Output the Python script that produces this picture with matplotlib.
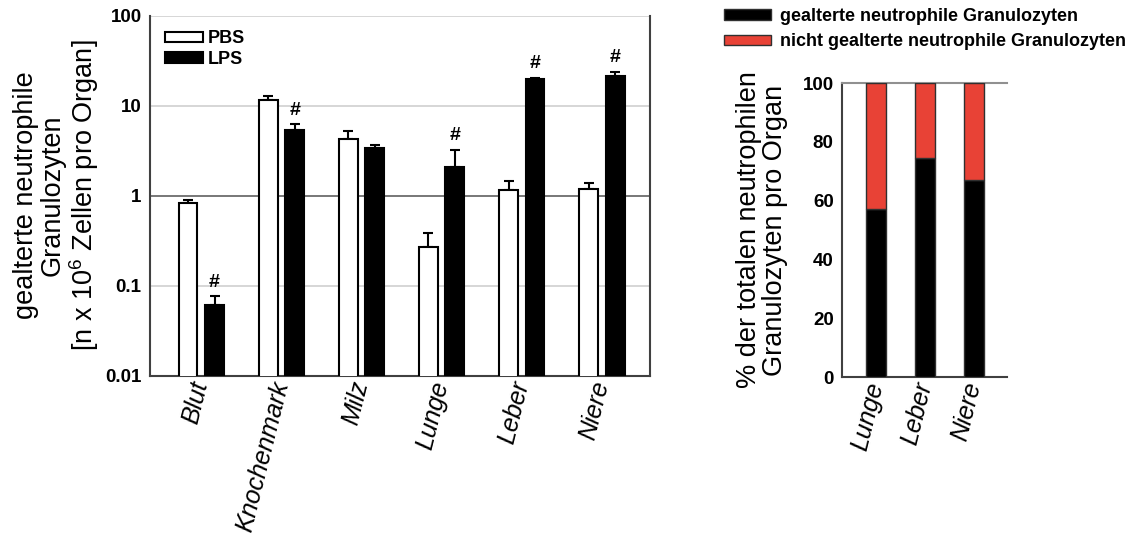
import numpy as np
import matplotlib
matplotlib.use("Agg")
import matplotlib.pyplot as plt
import matplotlib.transforms as mtransforms
from matplotlib.patches import Patch

plt.rcParams['font.family'] = ['Liberation Sans', 'DejaVu Sans']
plt.rcParams['mathtext.fontset'] = 'custom'
plt.rcParams['mathtext.rm'] = 'Liberation Sans'

# left chart data (log scale)
organs = ['Blut', 'Knochenmark', 'Milz', 'Lunge', 'Leber', 'Niere']
pbs_mean = [0.83, 11.6, 4.3, 0.27, 1.17, 1.2]
pbs_top = [0.91, 13.0, 5.3, 0.385, 1.48, 1.38]
lps_mean = [0.062, 5.4, 3.4, 2.08, 19.9, 21.7]
lps_top = [0.077, 6.3, 3.7, 3.24, 20.6, 24.0]
lps_sig = [True, True, False, True, True, True]

# right chart data (percent)
organs2 = ['Lunge', 'Leber', 'Niere']
aged_pct = [57.1, 74.6, 67.0]
not_aged_pct = [42.9, 25.4, 33.0]

red = '#e84236'
spine_col = '#404040'

fig = plt.figure(figsize=(11.41, 5.42), dpi=100)
shift = mtransforms.ScaledTranslation(21/100, 0, fig.dpi_scale_trans)

# ---------------- left chart ----------------
ax = fig.add_axes([150/1141, 1-376/542, 500/1141, 360/542])
x = np.arange(len(organs))
w = 0.235
off = 0.165
b1 = ax.bar(x - off, pbs_mean, w, color='white', edgecolor='black', linewidth=1.5, zorder=3, label='PBS')
b2 = ax.bar(x + off, lps_mean, w, color='black', edgecolor='black', linewidth=1.5, zorder=3, label='LPS')
pbs_err = np.array(pbs_top) - np.array(pbs_mean)
lps_err = np.array(lps_top) - np.array(lps_mean)
ax.errorbar(x - off, pbs_mean, yerr=[np.zeros(len(x)), pbs_err], fmt='none', ecolor='black',
            elinewidth=1.5, capsize=3.5, capthick=1.5, zorder=2)
ax.errorbar(x + off, lps_mean, yerr=[np.zeros(len(x)), lps_err], fmt='none', ecolor='black',
            elinewidth=1.5, capsize=3.5, capthick=1.5, zorder=2)
for i in range(len(x)):
    if lps_sig[i]:
        ax.annotate('#', (x[i] + off, lps_top[i]), xytext=(0, 4), textcoords='offset points',
                    ha='center', va='bottom', fontsize=14, fontweight='bold')

ax.set_yscale('log')
ax.set_ylim(0.01, 100)
ax.set_xlim(-0.64, 5.6)
ax.set_yticks([0.01, 0.1, 1, 10, 100])
ax.set_yticklabels(['0.01', '0.1', '1', '10', '100'], fontsize=13.5, fontweight='bold')
ax.minorticks_off()
for yv in [0.1, 10, 100]:
    ax.axhline(yv, color='#d0d0d0', linewidth=1.2, zorder=1)
ax.axhline(1, color='#606060', linewidth=1.2, zorder=1)
ax.set_xticks(x)
ax.set_xticklabels(organs, fontsize=18, fontstyle='italic', rotation=76,
                   ha='right', va='center', rotation_mode='anchor')
for lab in ax.get_xticklabels():
    lab.set_transform(lab.get_transform() + shift)
ax.tick_params(axis='both', length=0, pad=6)
ax.tick_params(axis='x', pad=4)
ax.spines['top'].set_visible(False)
for s in ['left', 'bottom', 'right']:
    ax.spines[s].set_color(spine_col)
    ax.spines[s].set_linewidth(1.5)
ax.legend(handles=[b1, b2], loc='upper left', bbox_to_anchor=(0.015, 0.98), frameon=False,
          prop={'size': 13, 'weight': 'bold'}, handlelength=2.1, handleheight=0.5,
          labelspacing=0.2, handletextpad=0.3, borderaxespad=0)

fig.text(57/1141, 1-195/542,
         'gealterte neutrophile\nGranulozyten\n[n x $\\mathregular{10^6}$ Zellen pro Organ]',
         rotation=90, ha='center', va='center', fontsize=19.5, linespacing=1.05)

# ---------------- right chart ----------------
ax2 = fig.add_axes([842/1141, 1-377/542, 165/1141, 294/542])
x2 = np.arange(len(organs2))
ax2.bar(x2, aged_pct, 0.41, color='black', edgecolor='#303030', linewidth=1, zorder=3)
ax2.bar(x2, not_aged_pct, 0.41, bottom=aged_pct, color=red, edgecolor='#303030', linewidth=1, zorder=3)
ax2.set_ylim(0, 100)
ax2.set_xlim(-0.69, 2.67)
ax2.set_yticks([0, 20, 40, 60, 80, 100])
ax2.set_yticklabels(['0', '20', '40', '60', '80', '100'], fontsize=13.5, fontweight='bold')
ax2.set_xticks(x2)
ax2.set_xticklabels(organs2, fontsize=18, fontstyle='italic', rotation=76,
                    ha='right', va='center', rotation_mode='anchor')
for lab in ax2.get_xticklabels():
    lab.set_transform(lab.get_transform() + shift)
ax2.tick_params(axis='both', length=0, pad=6)
ax2.tick_params(axis='x', pad=4)
ax2.spines['right'].set_visible(False)
ax2.spines['top'].set_color('#909090')
ax2.spines['top'].set_linewidth(1.5)
for s in ['left', 'bottom']:
    ax2.spines[s].set_color(spine_col)
    ax2.spines[s].set_linewidth(1.5)

fig.text(762/1141, 1-230/542, '% der totalen neutrophilen\nGranulozyten pro Organ',
         rotation=90, ha='center', va='center', fontsize=19.5, linespacing=1.05)

handles = [Patch(facecolor='black', edgecolor='#303030'),
           Patch(facecolor=red, edgecolor='#303030')]
fig.legend(handles, ['gealterte neutrophile Granulozyten', 'nicht gealterte neutrophile Granulozyten'],
           loc='upper left', bbox_to_anchor=(724/1141, 1-8/542), frameon=False,
           prop={'size': 13, 'weight': 'bold'}, handlelength=2.6, handleheight=0.5,
           labelspacing=0.45, handletextpad=0.5, borderaxespad=0, borderpad=0)

fig.savefig('out.png', dpi=100)
